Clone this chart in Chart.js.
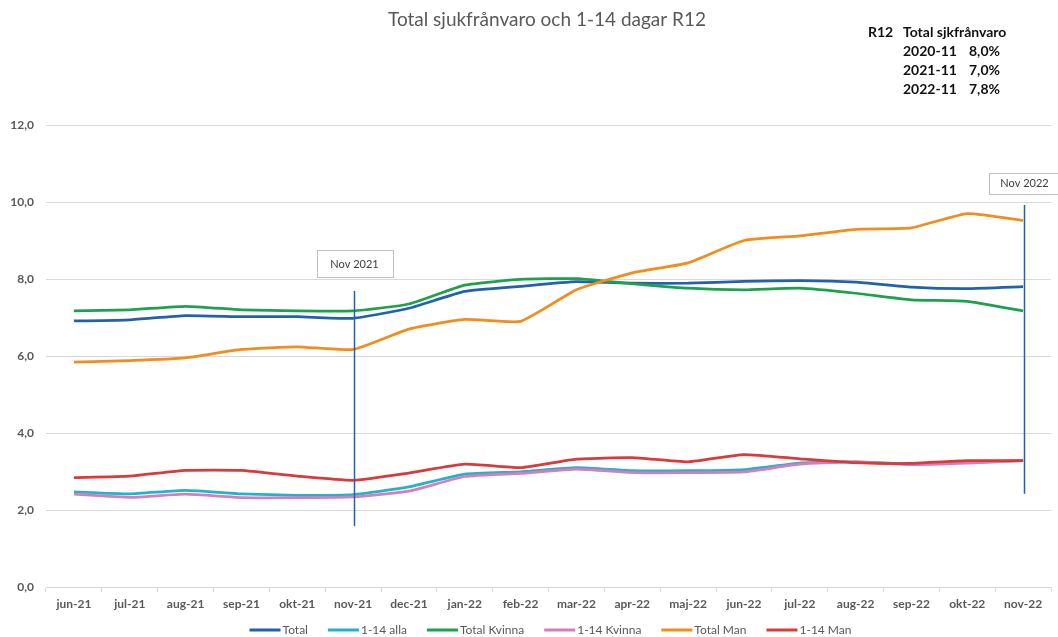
<!DOCTYPE html>
<html><head><meta charset="utf-8">
<script src="https://cdn.jsdelivr.net/npm/chart.js@4.4.0/dist/chart.umd.min.js"></script>
<style>html,body{margin:0;padding:0;background:#fff;}</style>
</head><body>
<canvas id="c" width="1058" height="637"></canvas>
<script>
const categories = ['jun-21','jul-21','aug-21','sep-21','okt-21','nov-21','dec-21','jan-22','feb-22','mar-22','apr-22','maj-22','jun-22','jul-22','aug-22','sep-22','okt-22','nov-22'];
const seriesNames = ['Total','1-14 alla','Total Kvinna','1-14 Kvinna','Total Man','1-14 Man'];
const total       = [6.91,6.94,7.05,7.02,7.02,6.98,7.24,7.68,7.81,7.93,7.89,7.89,7.94,7.96,7.92,7.79,7.75,7.80];
const alla14      = [2.47,2.42,2.51,2.42,2.38,2.40,2.60,2.93,2.99,3.10,3.02,3.02,3.05,3.22,3.25,3.20,3.23,3.28];
const totalKvinna = [7.17,7.20,7.29,7.20,7.17,7.17,7.35,7.84,7.99,8.01,7.88,7.76,7.72,7.76,7.63,7.46,7.42,7.17];
const kvinna14    = [2.41,2.33,2.41,2.32,2.32,2.34,2.49,2.87,2.95,3.06,2.97,2.97,2.99,3.19,3.25,3.18,3.22,3.28];
const totalMan    = [5.84,5.88,5.95,6.17,6.24,6.17,6.70,6.95,6.90,7.72,8.16,8.42,9.00,9.12,9.29,9.33,9.70,9.52];
const man14       = [2.84,2.88,3.03,3.03,2.88,2.77,2.96,3.19,3.10,3.32,3.36,3.25,3.44,3.33,3.23,3.21,3.28,3.28];
const seriesColors = ['#2261ad','#1fb4cc','#1ca24c','#d87cbe','#f28c1c','#d93a3a'];

const yMin = 0, yMax = 12, yStep = 2;

const chartTitle = 'Total sjukfrånvaro och 1-14 dagar R12';
const summaryHeader = ['R12', 'Total sjkfrånvaro'];
const summaryPeriods = ['2020-11', '2021-11', '2022-11'];
const summaryValues = ['8,0%', '7,0%', '7,8%'];

const markerIndex = [5, 17];
const markerFrom = [1.58, 2.42];
const markerTo = [7.69, 9.92];
const markerLabels = ['Nov 2021', 'Nov 2022'];
const markerLabelY = [8.39, 10.49];

const FONT = 'Lato, "Open Sans", sans-serif';

const seriesData = [total, alla14, totalKvinna, kvinna14, totalMan, man14];

const extras = {
  id: 'extras',
  afterDatasetsDraw(chart) {
    const ctx = chart.ctx, x = chart.scales.x, y = chart.scales.y;
    ctx.save();
    for (let i = 0; i < markerIndex.length; i++) {
      const px = Math.round(x.getPixelForValue(markerIndex[i]) + 1) + 0.5;
      ctx.strokeStyle = '#2261ad';
      ctx.lineWidth = 1.5;
      ctx.beginPath();
      ctx.moveTo(px, y.getPixelForValue(markerTo[i]));
      ctx.lineTo(px, y.getPixelForValue(markerFrom[i]));
      ctx.stroke();
      const w = i === 0 ? 76 : 72, h = i === 0 ? 27 : 21;
      const cy = y.getPixelForValue(markerLabelY[i]);
      const bx = Math.round(px - w / 2) + 0.5, by = Math.round(cy - h / 2) + 0.5;
      ctx.fillStyle = '#fff';
      ctx.fillRect(bx, by, w, h);
      ctx.strokeStyle = '#bfbfbf';
      ctx.lineWidth = 1;
      ctx.strokeRect(bx, by, w, h);
      ctx.fillStyle = '#404040';
      ctx.font = '11px ' + FONT;
      ctx.textAlign = 'center';
      ctx.textBaseline = 'middle';
      ctx.fillText(markerLabels[i], px, cy);
    }
    ctx.restore();
  },
  afterDraw(chart) {
    const ctx = chart.ctx, area = chart.chartArea;
    ctx.save();
    // title
    ctx.fillStyle = '#595959';
    ctx.font = '19px ' + FONT;
    ctx.textAlign = 'center';
    ctx.textBaseline = 'middle';
    ctx.fillText(chartTitle, 547, 20);
    // summary
    ctx.fillStyle = '#111';
    ctx.font = 'bold 14px ' + FONT;
    ctx.textAlign = 'left';
    ctx.fillText(summaryHeader[0], 868, 32);
    ctx.fillText(summaryHeader[1], 903, 32);
    for (let i = 0; i < summaryPeriods.length; i++) {
      ctx.fillText(summaryPeriods[i], 903, 51 + i * 19);
      ctx.fillText(summaryValues[i], 969, 51 + i * 19);
    }
    // legend
    ctx.font = '12px ' + FONT;
    const lineW = 31, gap = 2, itemGap = 20;
    const items = chart.data.datasets.map(d => ({label: d.label, color: d.borderColor, tw: ctx.measureText(d.label).width}));
    const totalW = items.reduce((s, it) => s + lineW + gap + it.tw, 0) + itemGap * (items.length - 1);
    let lx = (area.left + area.right) / 2 - totalW / 2 + 2;
    const ly = 630;
    items.forEach(it => {
      ctx.strokeStyle = it.color;
      ctx.lineWidth = 3;
      ctx.beginPath();
      ctx.moveTo(lx, ly);
      ctx.lineTo(lx + lineW, ly);
      ctx.stroke();
      ctx.fillStyle = '#595959';
      ctx.textBaseline = 'middle';
      ctx.fillText(it.label, lx + lineW + gap, ly);
      lx += lineW + gap + it.tw + itemGap;
    });
    ctx.restore();
  }
};

new Chart(document.getElementById('c'), {
  type: 'line',
  data: {
    labels: categories,
    datasets: seriesData.map((d, i) => ({
      label: seriesNames[i],
      data: d,
      borderColor: seriesColors[i],
      backgroundColor: seriesColors[i],
      borderWidth: 2.75,
      pointRadius: 0,
      tension: 0.15,
      order: seriesData.length - i
    }))
  },
  options: {
    responsive: false,
    animation: false,
    devicePixelRatio: 1,
    layout: { padding: { top: 125, right: 7, left: 0, bottom: 0 } },
    plugins: { legend: { display: false }, title: { display: false }, tooltip: { enabled: false } },
    scales: {
      x: {
        offset: true,
        grid: { display: true, drawOnChartArea: false, drawTicks: true, tickLength: 5, color: '#d9d9d9', offset: true },
        border: { display: true, color: '#d9d9d9' },
        ticks: { color: '#595959', font: { family: FONT, size: 12, weight: 'bold' }, padding: 5, maxRotation: 0, autoSkip: false },
        afterFit(s) { s.height = 50; }
      },
      y: {
        min: yMin, max: yMax,
        grid: { color: '#d9d9d9', drawTicks: false },
        border: { display: false },
        ticks: { stepSize: yStep, color: '#595959', font: { family: FONT, size: 12, weight: 'bold' }, padding: 12,
                 callback: v => v.toFixed(1).replace('.', ',') },
        afterFit(s) { s.width = 46; }
      }
    }
  },
  plugins: [extras]
});
</script>
</body></html>
